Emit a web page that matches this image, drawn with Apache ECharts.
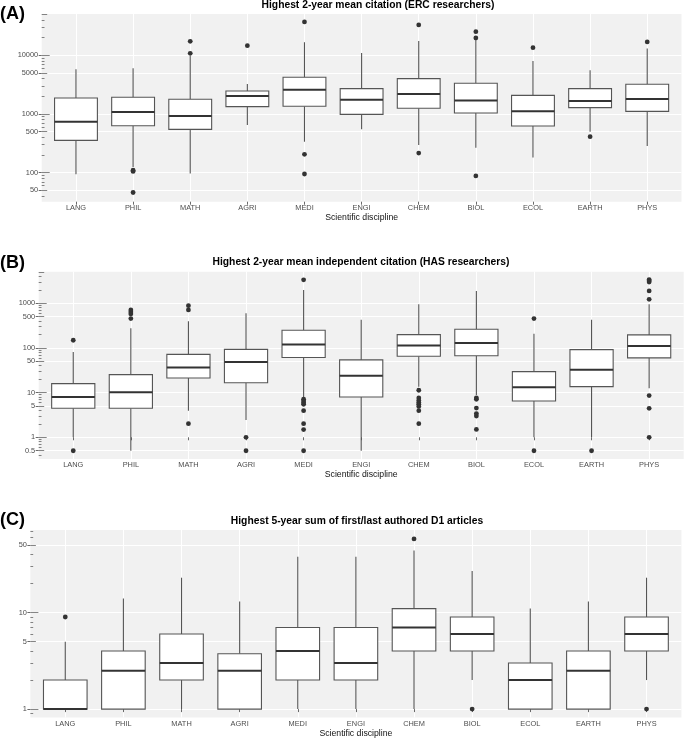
<!DOCTYPE html>
<html>
<head>
<meta charset="utf-8">
<script src="https://cdn.jsdelivr.net/npm/echarts@6/dist/echarts.min.js"></script>
<style>
html,body{margin:0;padding:0;background:#fff;}
#chart{width:685px;height:739px;}
</style>
</head>
<body>
<div id="chart"></div>
<script>
// ---------- DATA ----------
const categories = ['LANG','PHIL','MATH','AGRI','MEDI','ENGI','CHEM','BIOL','ECOL','EARTH','PHYS'];

// Panel A: Highest 2-year mean citation (ERC researchers)
const aLow  = [94, 125, 97, 650, 337, 548, 297, 267, 182, 500, 285];
const aQ1   = [356, 632, 548, 1334, 1352, 987, 1250, 1040, 624, 1282, 1110];
const aMed  = [740, 1080, 925, 2027, 2600, 1755, 2190, 1690, 1110, 1667, 1803];
const aQ3   = [1875, 1925, 1780, 2465, 4217, 2705, 4000, 3335, 2080, 2705, 3210];
const aHigh = [5770, 6000, 9800, 3245, 16700, 10950, 17540, 18000, 8000, 5550, 13000];
const aOutliers = [[1,110],[1,105],[1,46],[2,10800],[2,17300],[3,14600],[4,37000],[4,206],[4,95],
  [6,32900],[6,216],[7,25300],[7,19700],[7,88],[8,13500],[9,411],[10,16900]];
const aTicks = ['50','100','500','1000','5000','10000'];

// Panel B: Highest 2-year mean independent citation (HAS researchers)
const bLow  = [1, 0.5, 3.95, 2.44, 8, 0.5, 13.6, 8.9, 1, 1, 12.5];
const bQ1   = [4.46, 4.46, 21.3, 16.7, 61, 8, 65, 67, 6.5, 13.6, 60];
const bMed  = [8.0, 10.2, 36.3, 48.7, 119, 24, 113, 129, 13.2, 32.7, 111];
const bQ3   = [15.9, 25.3, 72, 93, 249, 54, 199, 262, 29.5, 92, 196];
const bHigh = [81, 275, 395, 597, 1990, 431, 950, 1890, 209, 431, 950];
const bOutliers = [[0,149],[0,0.5],[1,710],[1,640],[1,577],[1,454],[2,887],[2,710],[2,2.02],[3,1],[3,0.5],
  [4,3350],[4,7.1],[4,6.5],[4,5.9],[4,5.5],[4,3.95],[4,2.02],[4,1.49],[4,0.5],
  [6,11.3],[6,7.6],[6,6.7],[6,6.0],[6,5.5],[6,4.9],[6,3.95],[6,2.02],
  [7,7.6],[7,7.1],[7,4.5],[7,3.4],[7,3.0],[7,1.5],[8,454],[8,0.5],[9,0.5],
  [10,3400],[10,3200],[10,3000],[10,1890],[10,1230],[10,8.6],[10,4.46],[10,1]];
const bTicks = ['0.5','1','5','10','50','100','500','1000'];

// Panel C: Highest 5-year sum of first/last authored D1 articles
const cLow  = [1, 1, 1, 1, 1, 1, 1, 2, 1, 1, 2];
const cQ1   = [1, 1, 2, 1, 2, 2, 4, 4, 1, 1, 4];
const cMed  = [1, 2.5, 3, 2.5, 4, 3, 7, 6, 2, 2.5, 6];
const cQ3   = [2, 4, 6, 3.75, 7, 7, 11, 9, 3, 4, 9];
const cHigh = [5, 14, 23, 13, 38, 38, 44, 27, 11, 13, 23];
const cOutliers = [[0,9],[6,58],[7,1],[10,1]];
const cTicks = ['1','5','10','50'];

const panelTitles = [
  'Highest 2-year mean citation (ERC researchers)',
  'Highest 2-year mean independent citation (HAS researchers)',
  'Highest 5-year sum of first/last authored D1 articles'
];
const panelTags = ['(A)','(B)','(C)'];
const xTitle = 'Scientific discipline';

// ---------- LAYOUT ----------
const FONT = '"Liberation Sans", Arial, Helvetica, sans-serif';
const panels = [
  {low:aLow,q1:aQ1,med:aMed,q3:aQ3,high:aHigh,out:aOutliers,ticks:aTicks,
   grid:{left:41.7,top:14,width:639.8,height:187.7}, yr:[1.506,4.7036],
   titleX:378,titleY:5.5,tagY:14.5},
  {low:bLow,q1:bQ1,med:bMed,q3:bQ3,high:bHigh,out:bOutliers,ticks:bTicks,
   grid:{left:38.7,top:271.7,width:645,height:187.3}, yr:[-0.486,3.7075],
   titleX:361,titleY:262.5,tagY:263},
  {low:cLow,q1:cQ1,med:cMed,q3:cQ3,high:cHigh,out:cOutliers,ticks:cTicks,
   grid:{left:30.4,top:530,width:651,height:187.7}, yr:[-0.087,1.856],
   titleX:357,titleY:521,tagY:520.5}
];

const L = Math.log10;
const grids = [], xAxes = [], yAxes = [], series = [], graphics = [];

function logTicks(yr){
  const longT=[], midT=[], shortT=[];
  for (let e = Math.floor(yr[0]) - 1; e <= Math.ceil(yr[1]); e++){
    for (let m = 1; m <= 9; m++){
      const v = e + L(m);
      if (v < yr[0] - 1e-9 || v > yr[1] + 1e-9) continue;
      if (m === 1) longT.push(v); else if (m === 5) midT.push(v); else shortT.push(v);
    }
  }
  return {longT, midT, shortT};
}

panels.forEach((p, i) => {
  grids.push(Object.assign({show:true, backgroundColor:'#F1F1F1', borderWidth:0}, p.grid));
  const catVals = categories.map((c, j) => j + 1);
  xAxes.push({
    gridIndex:i, type:'value', min:0.4, max:11.6,
    axisLine:{show:false},
    axisTick:{show:true, length:3, customValues:catVals, lineStyle:{color:'#444', width:0.8}},
    axisLabel:{customValues:catVals, formatter:v => categories[Math.round(v)-1] || '',
      margin:2.5, fontSize:7.4, color:'#4d4d4d', fontFamily:FONT},
    splitLine:{show:true, lineStyle:{color:'#ffffff', width:1}},
    name:xTitle, nameLocation:'middle', nameGap:11.5,
    nameTextStyle:{fontSize:8.7, color:'#111', fontFamily:FONT}
  });
  const major = p.ticks.map(t => L(parseFloat(t)));
  const mainIdx = yAxes.length;
  yAxes.push({
    gridIndex:i, type:'value', min:p.yr[0], max:p.yr[1], position:'left',
    axisLine:{show:false},
    axisTick:{show:true, length:3, customValues:major, lineStyle:{color:'#444', width:0.8}},
    axisLabel:{customValues:major, margin:3.5, fontSize:7.4, color:'#4d4d4d', fontFamily:FONT,
      formatter:v => { let k = major.findIndex(m => Math.abs(m - v) < 1e-6); return k >= 0 ? p.ticks[k] : ''; }},
    splitLine:{show:true, lineStyle:{color:'#ffffff', width:1}}
  });
  const lt = logTicks(p.yr);
  [[lt.longT, 8], [lt.midT, 5.5], [lt.shortT, 2.8]].forEach(([vals, len]) => {
    yAxes.push({
      gridIndex:i, type:'value', min:p.yr[0], max:p.yr[1], position:'left', offset:0,
      axisLine:{show:false}, axisLabel:{show:false}, splitLine:{show:false},
      axisTick:{show:true, inside:true, length:len, customValues:vals, lineStyle:{color:'#666', width:0.8}}
    });
  });

  const boxData = categories.map((c, j) => [j + 1, L(p.low[j]), L(p.q1[j]), L(p.med[j]), L(p.q3[j]), L(p.high[j])]);
  series.push({
    type:'custom', xAxisIndex:i, yAxisIndex:mainIdx, z:3,
    encode:{x:0, y:[1,2,3,4,5]},
    data:boxData,
    renderItem:(params, api) => {
      const x = api.value(0);
      const pl = api.coord([x, api.value(1)]);
      const p1 = api.coord([x, api.value(2)]);
      const pm = api.coord([x, api.value(3)]);
      const p3 = api.coord([x, api.value(4)]);
      const ph = api.coord([x, api.value(5)]);
      const hw = api.size([0.75, 0])[0] / 2;
      const wStyle = {stroke:'#555', lineWidth:1.1};
      return {type:'group', children:[
        {type:'line', shape:{x1:pl[0], y1:pl[1], x2:p1[0], y2:p1[1]}, style:wStyle},
        {type:'line', shape:{x1:p3[0], y1:p3[1], x2:ph[0], y2:ph[1]}, style:wStyle},
        {type:'rect', shape:{x:p3[0]-hw, y:p3[1], width:2*hw, height:p1[1]-p3[1]},
          style:{fill:'#ffffff', stroke:'#555', lineWidth:1.1}},
        {type:'line', shape:{x1:pm[0]-hw, y1:pm[1], x2:pm[0]+hw, y2:pm[1]}, style:{stroke:'#333', lineWidth:2}}
      ]};
    }
  });
  series.push({
    type:'scatter', xAxisIndex:i, yAxisIndex:mainIdx, z:4,
    symbolSize:4.8, itemStyle:{color:'#333', opacity:1},
    data:p.out.map(o => [o[0] + 1, L(o[1])])
  });

  graphics.push({type:'text', x:p.titleX, y:p.titleY,
    style:{text:panelTitles[i], font:'bold 10.3px ' + FONT, fill:'#000',
      textAlign:'center', textVerticalAlign:'middle', align:'center', verticalAlign:'middle'}});
  graphics.push({type:'text', x:0, y:p.tagY,
    style:{text:panelTags[i], font:'bold 18px ' + FONT, fill:'#000',
      textAlign:'left', textVerticalAlign:'middle', align:'left', verticalAlign:'middle'}});
});

const chart = echarts.init(document.getElementById('chart'), null, {renderer:'canvas'});
chart.setOption({
  animation:false,
  backgroundColor:'#ffffff',
  grid:grids, xAxis:xAxes, yAxis:yAxes, series:series,
  graphic:{elements:graphics}
});
</script>
</body>
</html>
